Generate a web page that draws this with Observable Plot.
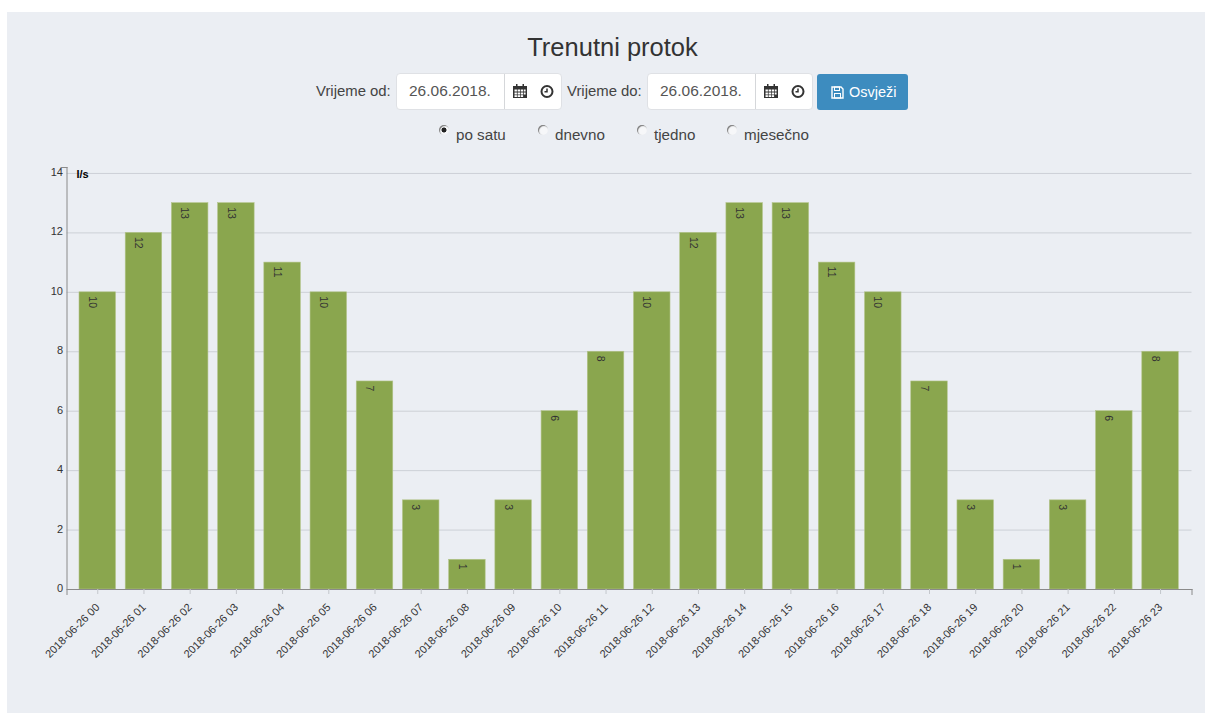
<!DOCTYPE html>
<html><head><meta charset="utf-8">
<script src="https://cdn.jsdelivr.net/npm/d3@7"></script>
<script src="https://cdn.jsdelivr.net/npm/@observablehq/plot@0.6"></script>
<style>
html,body{margin:0;padding:0;background:#fff;overflow:hidden}
body{width:1205px;height:713px;position:relative;font-family:"Liberation Sans",Arial,sans-serif;color:#333}
#panel{position:absolute;left:7px;top:12px;width:1198px;height:701px;background:#ebeef3}
.a{position:absolute;white-space:nowrap}
h1{margin:0;font-weight:400;font-size:25.5px;line-height:30px;left:0;width:1225px;top:32px;text-align:center;color:#333}
.lab{font-size:14.9px;line-height:20px;top:81px;color:#444}
.box{top:73px;height:37px;width:166px;box-sizing:border-box;background:#fff;border:1px solid #dfe1e5;border-radius:4px;font-size:15.5px;color:#555}
.box .v{position:absolute;left:12px;top:7px;line-height:20px}
.box .sep{position:absolute;left:107px;top:0;bottom:0;width:1px;background:#d5d7da}
.box svg{position:absolute;top:9px}
#btn{left:817px;top:74px;width:91px;height:36px;background:#3d8cbf;border-radius:3px;color:#fff;font-size:14.5px;line-height:36px}
#btn svg{position:absolute;left:14px;top:12px}
#btn span{position:absolute;left:32px}
.opt{font-size:15.2px;line-height:20px;top:125px;color:#444}
input[type=radio]{appearance:none;-webkit-appearance:none;position:absolute;margin:0;top:125px;width:10px;height:10px;border-radius:50%;background:#f6f7f9;border:0;box-shadow:inset 1px 1px 1px #777}
input[type=radio]:checked{background:radial-gradient(circle at 50% 50%,#222 0 2.2px,#f6f7f9 2.8px)}
#chart{position:absolute;left:0;top:150px}
#chart svg{display:block;background:transparent}
</style></head><body>
<div id="panel"></div>
<h1 class="a">Trenutni protok</h1>
<div class="a lab" style="left:316px">Vrijeme od:</div>
<div class="a box" style="left:396px"><span class="v">26.06.2018.</span><i class="sep"></i>
<svg style="left:115px" width="16" height="16" viewBox="0 0 16 16"><rect x="1" y="3" width="14" height="12" fill="#333"/><g fill="#fff"><rect x="2.5" y="6.5" width="2.4" height="2"/><rect x="5.6" y="6.5" width="2.4" height="2"/><rect x="8.7" y="6.5" width="2.4" height="2"/><rect x="11.8" y="6.5" width="1.8" height="2"/><rect x="2.5" y="9.5" width="2.4" height="2"/><rect x="5.6" y="9.5" width="2.4" height="2"/><rect x="8.7" y="9.5" width="2.4" height="2"/><rect x="11.8" y="9.5" width="1.8" height="2"/><rect x="2.5" y="12.2" width="2.4" height="1.8"/><rect x="5.6" y="12.2" width="2.4" height="1.8"/><rect x="8.7" y="12.2" width="2.4" height="1.8"/></g><rect x="4" y="1" width="1.5" height="3" fill="#333"/><rect x="10.5" y="1" width="1.5" height="3" fill="#333"/></svg>
<svg style="left:142px" width="16" height="16" viewBox="0 0 16 16"><circle cx="8" cy="8.5" r="5.5" fill="none" stroke="#333" stroke-width="2"/><path d="M8 5.5V8.8H5.5" fill="none" stroke="#333" stroke-width="1.5"/></svg></div>
<div class="a lab" style="left:567px">Vrijeme do:</div>
<div class="a box" style="left:647px"><span class="v">26.06.2018.</span><i class="sep"></i>
<svg style="left:115px" width="16" height="16" viewBox="0 0 16 16"><rect x="1" y="3" width="14" height="12" fill="#333"/><g fill="#fff"><rect x="2.5" y="6.5" width="2.4" height="2"/><rect x="5.6" y="6.5" width="2.4" height="2"/><rect x="8.7" y="6.5" width="2.4" height="2"/><rect x="11.8" y="6.5" width="1.8" height="2"/><rect x="2.5" y="9.5" width="2.4" height="2"/><rect x="5.6" y="9.5" width="2.4" height="2"/><rect x="8.7" y="9.5" width="2.4" height="2"/><rect x="11.8" y="9.5" width="1.8" height="2"/><rect x="2.5" y="12.2" width="2.4" height="1.8"/><rect x="5.6" y="12.2" width="2.4" height="1.8"/><rect x="8.7" y="12.2" width="2.4" height="1.8"/></g><rect x="4" y="1" width="1.5" height="3" fill="#333"/><rect x="10.5" y="1" width="1.5" height="3" fill="#333"/></svg>
<svg style="left:142px" width="16" height="16" viewBox="0 0 16 16"><circle cx="8" cy="8.5" r="5.5" fill="none" stroke="#333" stroke-width="2"/><path d="M8 5.5V8.8H5.5" fill="none" stroke="#333" stroke-width="1.5"/></svg></div>
<div class="a" id="btn"><svg width="13" height="13" viewBox="0 0 13 13"><path d="M1 1H10L12 3V12H1Z" fill="none" stroke="#fff" stroke-width="1.4"/><rect x="3.5" y="1" width="5" height="3.5" fill="none" stroke="#fff"/><rect x="3.5" y="7.5" width="6" height="4.5" fill="none" stroke="#fff"/></svg><span>Osvježi</span></div>
<input type="radio" name="p" style="left:439px" checked><div class="a opt" style="left:456px">po satu</div>
<input type="radio" name="p" style="left:538px"><div class="a opt" style="left:555px">dnevno</div>
<input type="radio" name="p" style="left:637px"><div class="a opt" style="left:654px">tjedno</div>
<input type="radio" name="p" style="left:727px"><div class="a opt" style="left:744px">mjesečno</div>
<div id="chart"></div>
<script>
const hours = ["2018-06-26 00","2018-06-26 01","2018-06-26 02","2018-06-26 03","2018-06-26 04","2018-06-26 05","2018-06-26 06","2018-06-26 07","2018-06-26 08","2018-06-26 09","2018-06-26 10","2018-06-26 11","2018-06-26 12","2018-06-26 13","2018-06-26 14","2018-06-26 15","2018-06-26 16","2018-06-26 17","2018-06-26 18","2018-06-26 19","2018-06-26 20","2018-06-26 21","2018-06-26 22","2018-06-26 23"];
const flow = [10,12,13,13,11,10,7,3,1,3,6,8,10,12,13,13,11,10,7,3,1,3,6,8];
const yTicks = [0,2,4,6,8,10,12,14];
const unit = ["l/s"];
const rows = hours.map((h,i)=>({h,v:flow[i]}));
const axisColor = "#8a8a8a";
const plot = Plot.plot({
  width:1205, height:563,
  marginLeft:66.5, marginRight:13.5, marginTop:17, marginBottom:124,
  style:{background:"transparent",fontFamily:'"Liberation Sans",Arial,sans-serif',fontSize:"11px",color:"#333"},
  x:{type:"band",domain:hours,range:[79,1178.3],round:false,paddingInner:0.21,paddingOuter:0,align:0.5,label:null},
  y:{domain:[0,14.2],label:null},
  marks:[
    Plot.ruleY(yTicks.filter(d=>d>0),{stroke:"#ccd0d6",strokeWidth:1}),
    Plot.barY(rows,{x:"h",y:"v",fill:"#8aa64e",stroke:"#b3c48a",strokeWidth:0.6}),
    Plot.text(rows,{x:"h",y:"v",text:d=>String(d.v),rotate:90,textAnchor:"start",dx:-5.5,dy:4,fontSize:10.5,fill:"#333"}),
    Plot.frame({anchor:"left",stroke:axisColor,insetBottom:-5}),
    Plot.frame({anchor:"top",stroke:axisColor,insetLeft:-6,insetRight:1125}),
    Plot.frame({anchor:"bottom",stroke:axisColor}),
    Plot.frame({anchor:"right",stroke:axisColor,insetBottom:-5,insetTop:422}),
    Plot.axisY({ticks:yTicks,tickSize:0,tickPadding:4,fontSize:11,anchor:"left",label:null,color:"#333",dy:-1}),
    Plot.axisX({anchor:"bottom",tickSize:5,stroke:"#c4c7cc",tickPadding:11,tickRotate:-45,label:null,fontSize:11,fill:"#333",textAnchor:"end"}),
    Plot.text(unit,{frameAnchor:"top-left",text:d=>d,dx:9.5,dy:2.5,fontWeight:"bold",fontSize:11,fill:"#000",textAnchor:"start"})
  ]
});
document.getElementById("chart").append(plot);
</script>
</body></html>
